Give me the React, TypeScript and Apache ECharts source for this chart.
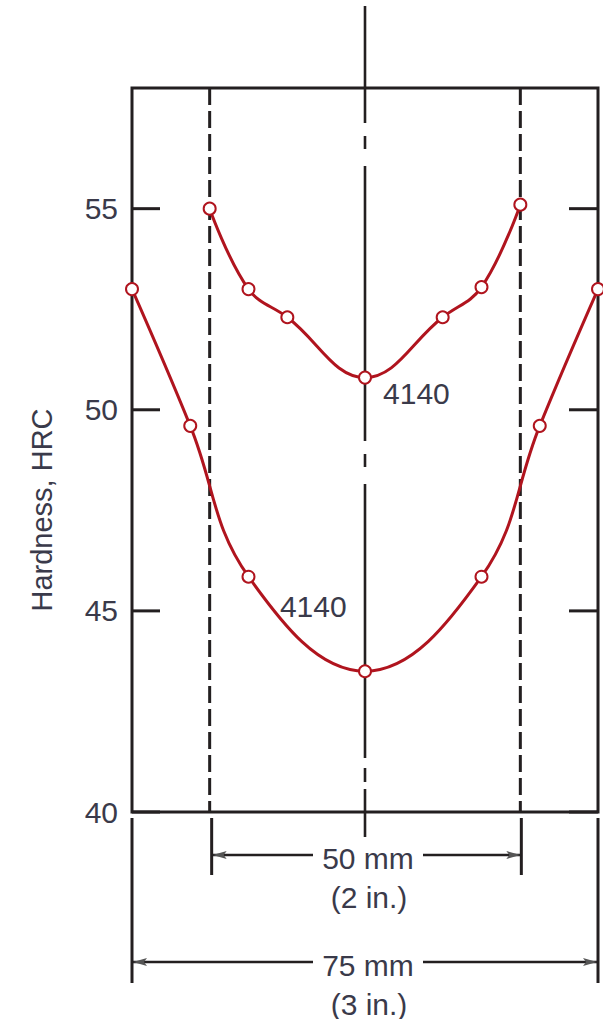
import React, { useEffect, useRef } from "react";
import * as echarts from "echarts";

// Position across the bar (mm from centre) and hardness (HRC)
const xLower = [-37.5, -28.125, -18.75, 0, 18.75, 28.125, 37.5];
const hrcLower = [53.0, 49.6, 45.85, 43.5, 45.85, 49.6, 53.0];
const xUpper = [-25, -18.75, -12.5, 0, 12.5, 18.75, 25];
const hrcUpper = [55.0, 53.0, 52.3, 50.8, 52.3, 53.05, 55.1];
const yTicks = [40, 45, 50, 55];
const seriesLabels = ["4140", "4140"];
// label anchors in data units [mm, HRC]
const labelAnchors = [
  [2.9, 50.4],
  [-13.7, 45.12],
];
const barDims = [
  { mm: 50, inch: 2 },
  { mm: 75, inch: 3 },
];

const RED = "#b0141e";
const INK = "#231f20";
const TXT = "#3a3a4a";
const FONT = "'Liberation Sans', Arial, sans-serif";

export default function App() {
  const ref = useRef<HTMLDivElement>(null);
  useEffect(() => {
    if (!ref.current) return;
    const chart = echarts.init(ref.current, null, { renderer: "svg" });
    const mkSeries = (xs: number[], ys: number[]) => ({
      type: "line",
      data: xs.map((x, i) => [x, ys[i]]),
      smooth: 0.4,
      clip: false,
      symbol: "circle",
      symbolSize: 12,
      lineStyle: { color: RED, width: 3 },
      itemStyle: { color: "#ffffff", borderColor: RED, borderWidth: 2 },
      z: 5,
    });
    chart.setOption({
      animation: false,
      grid: {
        left: 132,
        right: 5,
        top: 88,
        bottom: 207,
        show: true,
        borderColor: INK,
        borderWidth: 3,
        backgroundColor: "transparent",
      },
      xAxis: { type: "value", min: -37.5, max: 37.5, show: false },
      yAxis: {
        type: "value",
        min: 40,
        max: 58,
        interval: 5,
        position: "left",
        axisLine: { show: false, onZero: false },
        splitLine: { show: false },
        axisTick: { show: false },
        axisLabel: {
          margin: 14,
          fontSize: 30,
          color: TXT,
          fontFamily: FONT,
          showMaxLabel: false,
          formatter: (v: number) => (yTicks.includes(v) ? String(v) : ""),
        },
      },
      series: [mkSeries(xLower, hrcLower), mkSeries(xUpper, hrcUpper)],
    });

    const p = (x: number, y: number) => chart.convertToPixel({ gridIndex: 0 }, [x, y]) as number[];
    const gx = (x: number) => p(x, 40)[0];
    const yTop = p(0, 58)[1];
    const yBot = p(0, 40)[1];
    const cx = gx(0);
    const xL = gx(-37.5);
    const xR = gx(37.5);
    const lineEl = (x1: number, y1: number, x2: number, y2: number, extra: any = {}) => ({
      type: "line",
      shape: { x1, y1, x2, y2 },
      style: { stroke: INK, lineWidth: 3, ...extra },
      z: 1,
    });
    const text = (t: string, x: number, y: number, align = "center") => ({
      type: "text",
      x,
      y,
      style: { text: t, fill: TXT, font: `30px ${FONT}`, align, verticalAlign: "middle" },
      z: 6,
    });
    const g: any[] = [];
    // inward ticks on both sides
    yTicks.forEach((v) => {
      const py = p(0, v)[1];
      g.push(lineEl(xL, py, xL + 28, py));
      g.push(lineEl(xR - 29, py, xR, py));
    });
    // centre line (long dash / short dash)
    const centreDashes = [
      [6, 123], [136, 149], [166, 441], [454, 467], [484, 758], [768, 782], [789, yBot + 25],
    ];
    centreDashes.forEach(([a, b]) => g.push(lineEl(cx, a, cx, b, { lineWidth: 2.6 })));

    const half50 = barDims[0].mm / 2;
    const half75 = barDims[1].mm / 2;
    // dashed lines for 50 mm bar
    [-half50, half50].forEach((x) => {
      g.push(lineEl(gx(x), yTop, gx(x), yBot, { lineDash: [17, 6] }));
      g.push(lineEl(gx(x) + (x < 0 ? 2 : 1), yBot + 6, gx(x) + (x < 0 ? 2 : 1), yBot + 63));
    });
    [-half75, half75].forEach((x) => {
      g.push(lineEl(gx(x), yBot + 6, gx(x), yBot + 171));
    });

    const dimRow = (y: number, mmText: string, inText: string, xl: number, xr: number) => {
      const textC = cx + 3;
      g.push(lineEl(xl, y, textC - 55, y, { lineWidth: 2.6 }));
      g.push(lineEl(textC + 55, y, xr, y, { lineWidth: 2.6 }));
      // arrowheads
      g.push({
        type: "polygon",
        shape: { points: [[xl + 1, y], [xl + 15, y - 4], [xl + 12, y], [xl + 15, y + 4]] },
        style: { fill: "#555" },
        z: 2,
      });
      g.push({
        type: "polygon",
        shape: { points: [[xr - 1, y], [xr - 15, y - 4], [xr - 12, y], [xr - 15, y + 4]] },
        style: { fill: "#555" },
        z: 2,
      });
      g.push(text(mmText, textC, y + 3));
      g.push(text(inText, textC + 1, y + 42));
    };
    dimRow(yBot + 43, `${barDims[0].mm} mm`, `(${barDims[0].inch} in.)`, gx(-half50) + 2, gx(half50) + 1);
    dimRow(yBot + 150, `${barDims[1].mm} mm`, `(${barDims[1].inch} in.)`, xL, xR);

    // series labels
    labelAnchors.forEach(([x, y], i) => {
      const [px, py] = p(x, y);
      g.push(text(seriesLabels[i], px, py, "left"));
    });

    // y-axis title
    g.push({
      type: "text",
      x: 42,
      y: (yTop + yBot) / 2 + 60,
      rotation: Math.PI / 2,
      style: { text: "Hardness, HRC", fill: TXT, font: `29px ${FONT}`, align: "center", verticalAlign: "middle" },
      z: 6,
    });

    chart.setOption({ graphic: g });
    return () => chart.dispose();
  }, []);
  return (
    <div
      ref={ref}
      style={{ position: "absolute", left: 0, top: 0, width: 603, height: 1019, background: "#fff" }}
    />
  );
}
